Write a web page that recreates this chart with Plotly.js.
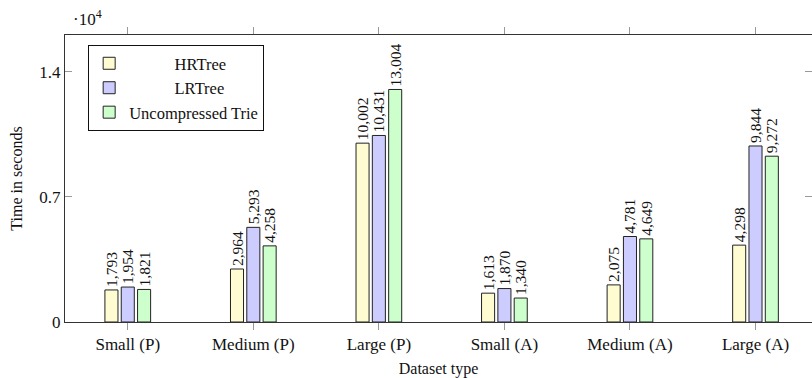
<!DOCTYPE html>
<html>
<head>
<meta charset="utf-8">
<script src="https://cdn.plot.ly/plotly-3.0.1.min.js"></script>
<style>html,body{margin:0;padding:0;background:#fff;}#chart{width:812px;height:378px;}</style>
</head>
<body>
<div id="chart"></div>
<script>
const categories = ['Small (P)', 'Medium (P)', 'Large (P)', 'Small (A)', 'Medium (A)', 'Large (A)'];
const seriesNames = ['HRTree', 'LRTree', 'Uncompressed Trie'];
const hrtree = [1793, 2964, 10002, 1613, 2075, 4298];
const lrtree = [1954, 5293, 10431, 1870, 4781, 9844];
const uncompressed = [1821, 4258, 13004, 1340, 4649, 9272];
const yTickVals = [0, 7000, 14000];
const yTickText = ['0', '0.7', '1.4'];

const fills = ['rgb(255,252,210)', 'rgb(204,204,255)', 'rgb(204,255,204)'];
const seriesValues = [hrtree, lrtree, uncompressed];
const FONT = 'Liberation Serif';
const padNames = [11, 11, 0];

const data = seriesValues.map((vals, i) => ({
  type: 'bar',
  name: '\u00a0'.repeat(padNames[i]) + seriesNames[i],
  x: categories,
  y: vals,
  marker: { color: fills[i], line: { color: '#222', width: 1 } },
  texttemplate: '%{y:,.0f}',
  textposition: 'outside',
  textangle: -90,
  constraintext: 'none',
  cliponaxis: false,
  textfont: { family: FONT, size: 15.5, color: '#111' },
  hoverinfo: 'x+y'
}));

const layout = {
  width: 812, height: 378,
  margin: { l: 65, r: 0, t: 35, b: 56 },
  paper_bgcolor: '#fff', plot_bgcolor: '#fff',
  font: { family: FONT, size: 16, color: '#111' },
  barmode: 'group',
  bargap: 0.61,
  bargroupgap: 0.2,
  showlegend: true,
  legend: {
    x: 0.031, y: 0.965, xanchor: 'left', yanchor: 'top',
    bgcolor: '#fff', bordercolor: '#111', borderwidth: 1,
    font: { family: FONT, size: 16.5, color: '#111' },
    traceorder: 'normal', tracegroupgap: 0, itemwidth: 30
  },
  xaxis: {
    type: 'category',
    range: [-0.5, 5.45],
    showline: true, linecolor: '#333', linewidth: 1, mirror: 'ticks',
    ticks: 'outside', ticklen: 7, tickcolor: '#999', tickwidth: 1,
    showgrid: false, zeroline: false,
    tickfont: { family: FONT, size: 17, color: '#111' },
    title: { text: 'Dataset type', font: { family: FONT, size: 16, color: '#111' }, standoff: 9 }
  },
  yaxis: {
    range: [0, 16050],
    tickvals: yTickVals, ticktext: yTickText,
    showline: true, linecolor: '#333', linewidth: 1, mirror: 'ticks',
    ticks: 'inside', ticklen: 7, tickcolor: '#999', tickwidth: 1,
    showgrid: false, zeroline: false,
    tickfont: { family: FONT, size: 17, color: '#111' },
    title: { text: 'Time in seconds', font: { family: FONT, size: 16, color: '#111' }, standoff: 12 }
  },
  annotations: [{
    xref: 'paper', yref: 'paper', x: 0, y: 1, xanchor: 'left', yanchor: 'bottom',
    xshift: 6, yshift: 4, showarrow: false,
    text: '\u00b710<sup>4</sup>', font: { family: FONT, size: 17, color: '#111' }
  }]
};

Plotly.newPlot('chart', data, layout, { displayModeBar: false, staticPlot: true });
</script>
</body>
</html>
